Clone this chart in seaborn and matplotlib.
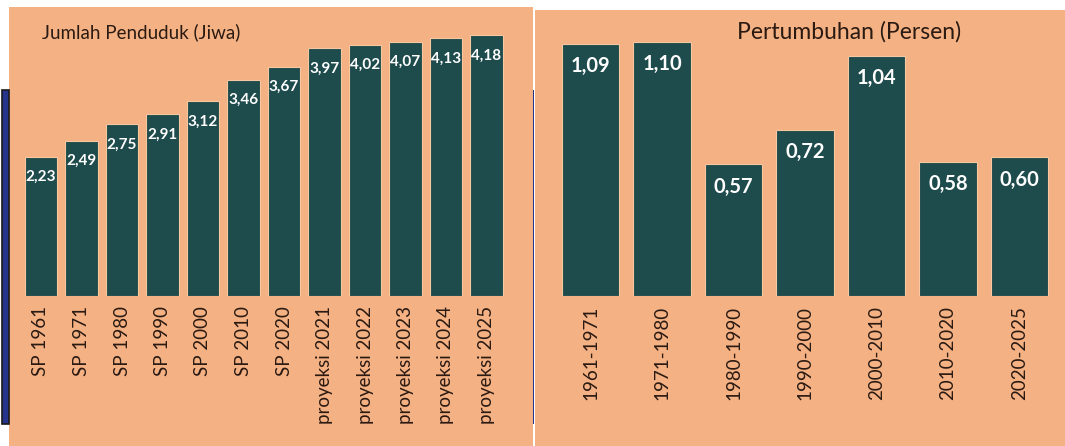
import matplotlib
matplotlib.use("Agg")
import matplotlib.pyplot as plt
from matplotlib.patches import Rectangle
import seaborn as sns
import pandas as pd

sns.set_style("white")
plt.rcParams['font.family'] = ['Lato', 'DejaVu Sans']

# ---- data ----
pop_labels = ["SP 1961", "SP 1971", "SP 1980", "SP 1990", "SP 2000", "SP 2010", "SP 2020",
              "proyeksi 2021", "proyeksi 2022", "proyeksi 2023", "proyeksi 2024", "proyeksi 2025"]
pop_values = [2.23, 2.49, 2.75, 2.91, 3.12, 3.46, 3.67, 3.97, 4.02, 4.07, 4.13, 4.18]
growth_labels = ["1961-1971", "1971-1980", "1980-1990", "1990-2000", "2000-2010", "2010-2020", "2020-2025"]
growth_values = [1.09, 1.10, 0.57, 0.72, 1.04, 0.58, 0.60]
title_left = "Jumlah Penduduk (Jiwa)"
title_right = "Pertumbuhan (Persen)"

BG = "#F4B183"
BAR = "#1E4B4C"
TXT = "#2A1A12"

W, H = 1065, 446
fig = plt.figure(figsize=(W / 100, H / 100), dpi=100)
fig.patch.set_facecolor("white")

def fr(x0, y0_top, x1, y1_top):
    """pixel box (top-left origin) -> figure rect"""
    return (x0 / W, 1 - y1_top / H, (x1 - x0) / W, (y1_top - y0_top) / H)

def add_rect(box, fc, ec="none", lw=0, z=-5):
    x, y, w, h = fr(*box)
    fig.patches.append(Rectangle((x, y), w, h, transform=fig.transFigure,
                                 facecolor=fc, edgecolor=ec, linewidth=lw, zorder=z))

# panel backgrounds
add_rect((9, 7, 533, 446), BG)
add_rect((535, 10, 1065, 446), BG)
# navy stripes
add_rect((2, 90, 9, 424), "#26358C", ec="#1a1a1a", lw=1.2)
add_rect((532.6, 90, 534.2, 424), "#26358C")

def panel(labels, values, box, ylim_top, fmt_size, offset_pt, tick_size):
    ax = fig.add_axes(fr(*box))
    ax.set_zorder(5)
    df = pd.DataFrame({"cat": labels, "val": values})
    sns.barplot(data=df, x="cat", y="val", color=BAR, saturation=1, width=0.8,
                ax=ax, edgecolor="#F7C7A2", linewidth=0.8)
    ax.set_xlim(-0.5, len(labels) - 0.5)
    ax.set_ylim(0, ylim_top)
    ax.patch.set_alpha(0)
    for s in ax.spines.values():
        s.set_visible(False)
    ax.set_xlabel("")
    ax.set_ylabel("")
    ax.set_yticks([])
    ax.tick_params(axis="x", length=0, pad=7)
    ax.set_xticks(range(len(labels)))
    ax.set_xticklabels(labels, rotation=90, fontsize=tick_size, color=TXT)
    for i, v in enumerate(values):
        ax.annotate(f"{v:.2f}".replace(".", ","), xy=(i, v), xytext=(0, offset_pt),
                    textcoords="offset points", ha="center", va="center",
                    color="white", fontsize=fmt_size, fontweight="bold")
    return ax

# left: baseline at y=296 px, 62.4 px per unit; centers at 41 + 40.5*i
axL = panel(pop_labels, pop_values, (20.75, 7, 506.75, 296), 289 / 62.4, 11, -14.5, 13.5)
# right: baseline 296, 231 px per unit; centers at 590.5 + 71.5*i
axR = panel(growth_labels, growth_values, (554.75, 10, 1055.25, 296), 286 / 231, 14.5, -16, 13.5)

fig.text(42 / W, 1 - 32 / H, title_left, ha="left", va="center", fontsize=13.5, color=TXT)
fig.text(849 / W, 1 - 32 / H, title_right, ha="center", va="center", fontsize=16.5, color=TXT)

fig.savefig("out.png", dpi=100, facecolor=fig.get_facecolor())
